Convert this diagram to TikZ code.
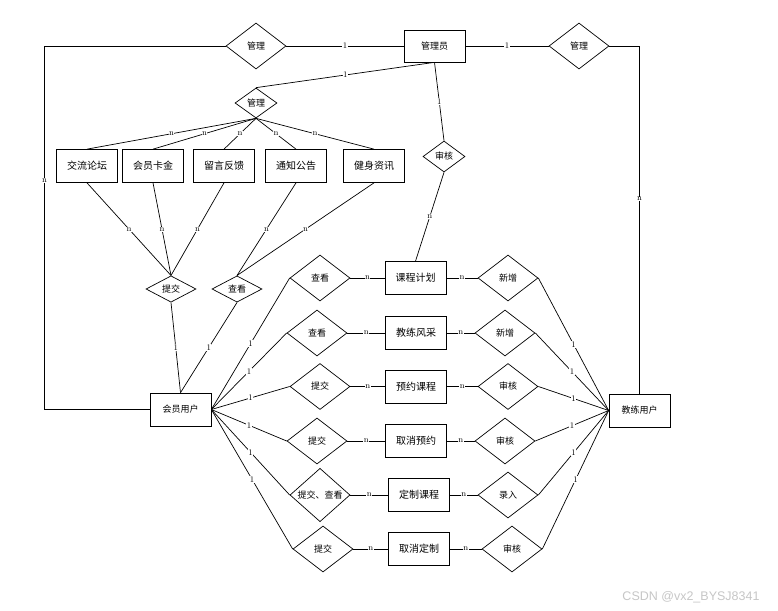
\documentclass[tikz,border=0pt]{standalone}
\usepackage{fontspec}
\newfontfamily\cjk{Noto Sans CJK SC}
\newfontfamily\wmfont{Liberation Sans}
\usetikzlibrary{shapes.geometric}
\tikzset{
	ent/.style={draw,rectangle,minimum width=61pt,minimum height=33pt,inner sep=0pt,font=\cjk\fontsize{10}{10}\selectfont},
	rel/.style={draw,diamond,minimum width=60pt,minimum height=46pt,inner sep=0pt,font=\cjk\fontsize{9}{9}\selectfont},
	srel/.style={rel,minimum width=50pt,minimum height=26pt},
	lab/.style={fill=white,inner sep=0.5pt,font=\fontsize{8.5}{8.5}\selectfont},
}
\begin{document}
\begin{tikzpicture}[x=1pt,y=-1pt,line width=0.7pt]
			\useasboundingbox (0,0) rectangle (778,610);
			% top part
			\node[ent,minimum height=32pt,font=\cjk\fontsize{9}{9}\selectfont] (gly) at (434.5,46) {管理员};
			\node[rel] (gl1) at (256,46) {管理};
			\node[rel] (gl2) at (579,46) {管理};
			\node[srel,minimum width=42pt,minimum height=30pt] (gl3) at (256,103) {管理};
			\node[srel,minimum width=42pt,minimum height=31pt] (sh) at (444,156.5) {审核};
			\foreach \n/\x/\t in {1/87/交流论坛,2/153/会员卡金,3/224/留言反馈,4/296/通知公告,5/374/健身资讯}
				\node[ent] (b\n) at (\x,166) {\t};
			\node[srel] (tj) at (171,289) {提交};
			\node[srel] (ck) at (237,289) {查看};
			\node[ent,font=\cjk\fontsize{9}{9}\selectfont] (hy) at (180.5,409.5) {会员用户};
			\node[ent,font=\cjk\fontsize{9}{9}\selectfont] (jl) at (639.5,410.5) {教练用户};
			\draw (gl1) -- node[lab]{1} (gly);
			\draw (gly) -- node[lab]{1} (gl2);
			\draw (gl1.west) -- ++(-181,0) |- node[lab,pos=0.185]{n} (hy.west);
			\draw (gl2.east) -| node[lab,pos=0.72]{n} (jl.north);
			\draw (gly.south) -- node[lab]{1} (gl3.north);
			\draw (gly.south) -- node[lab]{1} (sh.north);
			\foreach \n in {1,...,5}
				\draw (gl3.south) -- node[lab]{n} (b\n.north);
			\foreach \n in {1,2,3}
				\draw (b\n.south) -- node[lab]{n} (tj.north);
			\foreach \n in {4,5}
				\draw (b\n.south) -- node[lab]{n} (ck.north);
			\draw (tj.south) -- node[lab]{1} (hy.north);
			\draw (ck.south) -- node[lab]{1} (hy.north);
			% rows between the two users
			\foreach \i/\y/\xa/\a/\xb/\b/\xc/\c in {1/278/320/查看/415.5/课程计划/508/新增,
					2/333/317/查看/416/教练风采/505/新增,
					3/386.5/320/提交/416/预约课程/508/审核,
					4/441/317/提交/416/取消预约/505/审核,
					5/495/320/提交、查看/419/定制课程/508/录入,
					6/549/323/提交/419/取消定制/512/审核}{
				\node[rel] (ra\i) at (\xa,\y) {\a};
				\node[ent] (rb\i) at (\xb,\y) {\b};
				\node[rel] (rc\i) at (\xc,\y) {\c};
				\draw (hy.east) -- node[lab]{1} (ra\i.west);
				\draw (ra\i) -- node[lab]{n} (rb\i);
				\draw (rb\i) -- node[lab]{n} (rc\i);
				\draw (rc\i.east) -- node[lab]{1} (jl.west);
			}
			\draw (sh.south) -- node[lab]{n} (rb1.north);
			\node[text=gray!45,font=\wmfont\fontsize{12.5}{12.5}\selectfont] (wm) at (691,597) {CSDN @vx2\_BYSJ8341};
\end{tikzpicture}
\end{document}
